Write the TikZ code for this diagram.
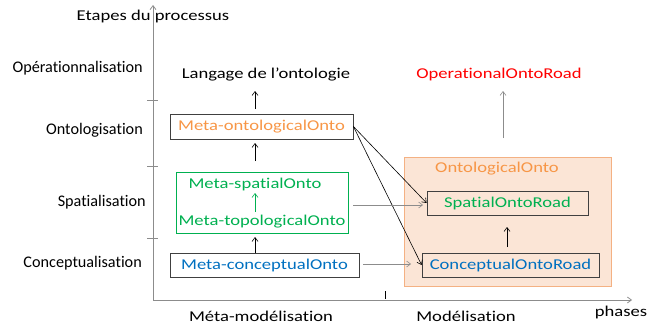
\documentclass[tikz,border=0pt]{standalone}
\usepackage{fontspec}
\setmainfont[Ligatures=NoCommon]{Carlito}
\newfontfamily\widefont[Ligatures=NoCommon, FakeStretch=1.24]{Carlito}
\usepackage{tikz}
\usetikzlibrary{positioning}
\usetikzlibrary{arrows.meta}
\definecolor{ontoorange}{HTML}{F79646}
\definecolor{ontogreen}{HTML}{00B050}
\definecolor{ontoblue}{HTML}{0070C0}
\definecolor{ontored}{HTML}{FF0000}
\definecolor{peach}{HTML}{FBE5D6}
\definecolor{peachline}{HTML}{F4B183}
\definecolor{axisgray}{HTML}{8C8C8C}
\definecolor{boxgray}{HTML}{404040}

\begin{document}
\begin{tikzpicture}[x=1pt, y=-1pt, font=\widefont\fontsize{15}{17}\selectfont]
        \tikzstyle{box}=[draw=boxgray, line width=0.8pt, inner sep=0pt]
        \tikzstyle{step label}=[anchor=east, inner sep=0pt,
            font=\rmfamily\fontsize{16.2}{18}\selectfont]
        \tikzstyle{up}=[-{Straight Barb[length=4pt,width=6pt]}, line width=0.6pt]
        \useasboundingbox (0,0) rectangle (660,324);

            \draw[-{Straight Barb[length=4pt,width=6pt]}, axisgray, line width=0.8pt]
            (153,300) -- (153,5);
            \draw[-{Straight Barb[length=4pt,width=6pt]}, axisgray, line width=0.8pt]
            (153,300) -- (632,300);
            \foreach \ty in {100,166,238}
                \draw[axisgray, line width=0.8pt] (147,\ty) -- (158,\ty);
            \draw[line width=0.8pt] (385,291) -- (385,299);

            \node (etapes) at (153,17) {Etapes du processus};
            \node[step label] (oper) at (143,68) {Opérationnalisation};
            \node[step label] (onto) at (143,130) {Ontologisation};
            \node[step label] (spat) at (146,202) {Spatialisation};
            \node[step label] (conc) at (142,263) {Conceptualisation};

            \node (meta) at (261,316) {Méta-modélisation};
            \node (model) at (466,316) {Modélisation};
            \node (phases) at (621,312) {phases};

            \node[draw=peachline, fill=peach, line width=0.8pt,
            minimum width=207pt, minimum height=129pt] (ontobox) at (507.5,221.5) {};
            \node[text=ontoorange] (ontolab) at (497,169) {OntologicalOnto};

            \node (langage) at (266,74) {Langage de l’ontologie};
            \node[box, text=ontoorange, minimum width=183pt, minimum height=25pt]
            (metaonto) at (261.5,126.5) {Meta-ontologicalOnto};

            \node[draw=ontogreen, line width=0.8pt, minimum width=172pt,
            minimum height=61pt] (greenbox) at (262,202.5) {};
            \node[text=ontogreen] (metaspat) at (255,184) {Meta-spatialOnto};
            \node[text=ontogreen] (metatopo) at (262,222) {Meta-topologicalOnto};

            \node[box, text=ontoblue, minimum width=189pt, minimum height=24pt]
            (metaconc) at (264.5,265) {Meta-conceptualOnto};

            \node[text=ontored] (operroad) at (499,74) {OperationalOntoRoad};
            \node[box, text=ontogreen, minimum width=161pt, minimum height=24pt]
            (spatroad) at (507.5,203) {SpatialOntoRoad};
            \node[box, text=ontoblue, minimum width=177pt, minimum height=24pt]
            (concroad) at (510.5,265) {ConceptualOntoRoad};

            \draw[up] (255,109) -- (255,91);
            \draw[up] (255,161) -- (255,143);
            \draw[up, ontogreen] (255,212) -- (255,193);
            \draw[up] (255,253) -- (255,237);
            \draw[up] (507,247) -- (507,227);
            \draw[up, axisgray] (503,138) -- (503,91);

            \draw[-{Straight Barb[length=4pt,width=6pt]}, line width=0.6pt]
            (metaonto.east) -- (spatroad.west);
            \draw[-{Straight Barb[length=4pt,width=6pt]}, line width=0.6pt]
            (metaonto.east) -- (concroad.west);
            \draw[-{Straight Barb[length=4pt,width=6pt]}, axisgray, line width=0.6pt]
            (353,205) -- (423,205);
            \draw[-{Straight Barb[length=4pt,width=6pt]}, axisgray, line width=0.6pt]
            (363,264) -- (411,264);
        \end{tikzpicture}
\end{document}
